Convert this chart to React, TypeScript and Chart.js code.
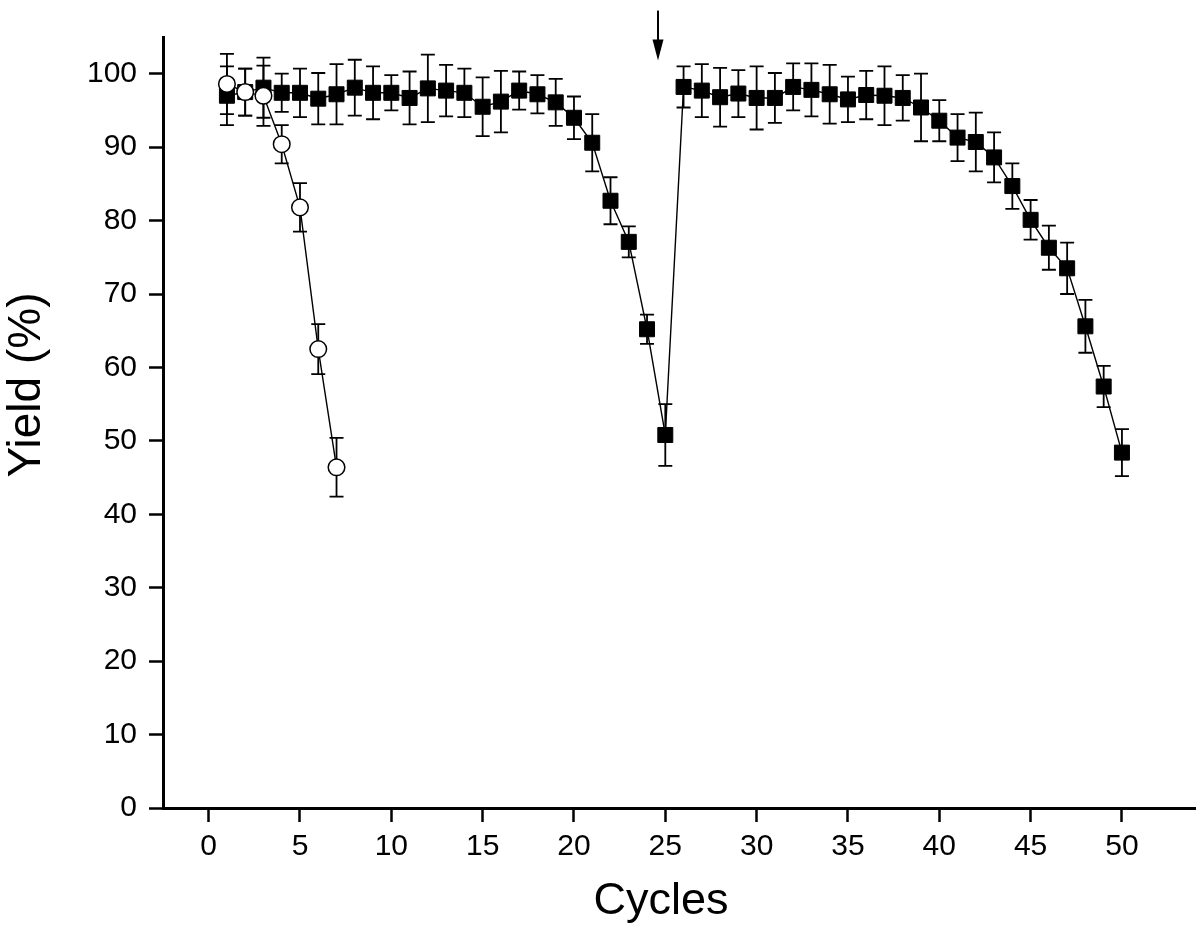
import React, { useEffect, useRef } from "react";
import { Chart, registerables } from "chart.js";

Chart.register(...registerables);

// ---- Data ----
const cycles = [
  1, 2, 3, 4, 5, 6, 7, 8, 9, 10, 11, 12, 13, 14, 15, 16, 17, 18, 19, 20, 21, 22, 23, 24, 25,
  26, 27, 28, 29, 30, 31, 32, 33, 34, 35, 36, 37, 38, 39, 40, 41, 42, 43, 44, 45, 46, 47, 48, 49, 50,
];
const squareYield = [
  97.0, 97.5, 98.1, 97.4, 97.4, 96.6, 97.2, 98.1, 97.4, 97.4, 96.7, 98.0, 97.7, 97.4, 95.5, 96.2, 97.7,
  97.2, 96.1, 94.0, 90.6, 82.7, 77.1, 65.2, 50.8,
  98.2, 97.7, 96.8, 97.3, 96.7, 96.7, 98.2, 97.8, 97.2, 96.5, 97.1, 97.0, 96.7, 95.4, 93.6, 91.3, 90.7,
  88.6, 84.7, 80.1, 76.3, 73.5, 65.6, 57.4, 48.4,
];
const squareErr = [
  4.0, 3.2, 4.1, 2.6, 3.3, 3.5, 4.1, 3.8, 3.6, 2.4, 3.6, 4.6, 3.5, 3.3, 4.0, 4.2, 2.6, 2.6, 3.2, 2.9,
  3.9, 3.2, 2.1, 2.0, 4.2,
  2.8, 3.6, 4.0, 3.2, 4.3, 3.4, 3.2, 3.6, 4.0, 3.1, 3.3, 4.0, 3.1, 4.6, 2.8, 3.2, 4.0, 3.4, 3.1, 2.7,
  3.0, 3.5, 3.6, 2.8, 3.2,
];
const circleCycles = [1, 2, 3, 4, 5, 6, 7];
const circleYield = [98.6, 97.5, 97.0, 90.4, 81.8, 62.5, 46.4];
const circleErr = [4.1, 3.2, 4.1, 2.6, 3.3, 3.4, 4.0];

const xTickValues = [0, 5, 10, 15, 20, 25, 30, 35, 40, 45, 50];
const yTickValues = [0, 10, 20, 30, 40, 50, 60, 70, 80, 90, 100];

const arrowCycle = 24.6;
const arrowTopValue = 108.6;
const arrowTipValue = 101.8;

const xTitle = "Cycles";
const yTitle = "Yield (%)";

const FONT = "'Liberation Sans', Arial, Helvetica, sans-serif";

const zeroPadding = () => ({ left: 0, top: 0, right: 0, bottom: 0 });

const errorBarPlugin = {
  id: "errorBars",
  beforeDatasetsDraw(chart: any) {
    const { ctx } = chart;
    const xs = chart.scales.x;
    const ys = chart.scales.y;
    ctx.save();
    ctx.strokeStyle = "#000";
    ctx.lineWidth = 1.8;
    chart.data.datasets.forEach((ds: any) => {
      const errs: number[] = ds.errors || [];
      ds.data.forEach((p: any, i: number) => {
        const e = errs[i];
        if (e == null) return;
        const px = xs.getPixelForValue(p.x);
        const yt = ys.getPixelForValue(p.y + e);
        const yb = ys.getPixelForValue(p.y - e);
        const cw = 7;
        ctx.beginPath();
        ctx.moveTo(px, yt);
        ctx.lineTo(px, yb);
        ctx.moveTo(px - cw, yt);
        ctx.lineTo(px + cw, yt);
        ctx.moveTo(px - cw, yb);
        ctx.lineTo(px + cw, yb);
        ctx.stroke();
      });
    });
    ctx.restore();
  },
};

const decorPlugin = {
  id: "decor",
  afterDraw(chart: any) {
    const { ctx } = chart;
    const xs = chart.scales.x;
    const ys = chart.scales.y;
    ctx.save();
    // arrow
    const ax = xs.getPixelForValue(arrowCycle);
    const aTop = ys.getPixelForValue(arrowTopValue);
    const aTip = ys.getPixelForValue(arrowTipValue);
    ctx.strokeStyle = "#000";
    ctx.fillStyle = "#000";
    ctx.lineWidth = 2;
    ctx.beginPath();
    ctx.moveTo(ax, aTop);
    ctx.lineTo(ax, aTip - 15);
    ctx.stroke();
    ctx.beginPath();
    ctx.moveTo(ax, aTip);
    ctx.lineTo(ax - 5.5, aTip - 21);
    ctx.lineTo(ax + 5.5, aTip - 21);
    ctx.closePath();
    ctx.fill();
    // axis titles
    ctx.fillStyle = "#000";
    ctx.textAlign = "center";
    ctx.textBaseline = "middle";
    ctx.font = `45px ${FONT}`;
    ctx.fillText(xTitle, 661, 902);
    ctx.translate(27, 385);
    ctx.rotate(-Math.PI / 2);
    ctx.font = `46px ${FONT}`;
    ctx.fillText(yTitle, 0, 0);
    ctx.restore();
  },
};

export default function App() {
  const ref = useRef<HTMLCanvasElement | null>(null);

  useEffect(() => {
    if (!ref.current) return;
    const squares = cycles.map((c, i) => ({ x: c, y: squareYield[i] }));
    const circles = circleCycles.map((c, i) => ({ x: c, y: circleYield[i] }));

    const axisCommon = {
      grid: {
        display: true,
        drawOnChartArea: false,
        drawTicks: true,
        tickLength: 14,
        tickWidth: 2.5,
        tickColor: "#000",
      },
      border: { display: true, color: "#000", width: 3 },
    };

    const chart = new Chart(ref.current, {
      type: "scatter",
      data: {
        datasets: [
          {
            label: "circles",
            data: circles,
            errors: circleErr,
            showLine: true,
            borderColor: "#000",
            borderWidth: 1.4,
            pointStyle: "circle",
            pointRadius: 8.3,
            pointBackgroundColor: "#fff",
            pointBorderColor: "#000",
            pointBorderWidth: 1.5,
            pointHoverRadius: 8.3,
          } as any,
          {
            label: "squares",
            data: squares,
            errors: squareErr,
            showLine: true,
            borderColor: "#000",
            borderWidth: 1.4,
            pointStyle: "rect",
            pointRadius: 10.6,
            pointBackgroundColor: "#000",
            pointBorderColor: "#000",
            pointBorderWidth: 1,
            pointHoverRadius: 10.6,
          } as any,
        ],
      },
      options: {
        responsive: false,
        animation: false,
        events: [],
        layout: { autoPadding: false, padding: { left: 0, top: 37, right: 5, bottom: 0 } },
        plugins: {
          legend: { display: false },
          tooltip: { enabled: false },
          title: { display: false },
        },
        scales: {
          x: {
            type: "linear",
            min: -2.5,
            max: 54,
            ...axisCommon,
            afterBuildTicks: (scale: any) => {
              scale.ticks = xTickValues.map((v) => ({ value: v }));
            },
            afterFit: (scale: any) => {
              scale.height = 125;
              scale.paddingLeft = 0;
              scale.paddingRight = 0;
              scale.getPadding = zeroPadding;
            },
            ticks: {
              color: "#000",
              padding: 7,
              font: { family: FONT, size: 30 },
              maxRotation: 0,
              autoSkip: false,
            },
          },
          y: {
            type: "linear",
            min: 0,
            max: 105,
            ...axisCommon,
            afterBuildTicks: (scale: any) => {
              scale.ticks = yTickValues.map((v) => ({ value: v }));
            },
            afterFit: (scale: any) => {
              scale.width = 163;
              scale.paddingTop = 0;
              scale.paddingBottom = 0;
              scale.getPadding = zeroPadding;
            },
            ticks: {
              color: "#000",
              padding: 12,
              font: { family: FONT, size: 30 },
              autoSkip: false,
            },
          },
        },
      } as any,
      plugins: [errorBarPlugin, decorPlugin],
    });
    return () => chart.destroy();
  }, []);

  return (
    <div style={{ position: "absolute", left: 0, top: 0, width: 1200, height: 933, background: "#fff" }}>
      <canvas ref={ref} width={1200} height={933} style={{ display: "block" }} />
    </div>
  );
}
